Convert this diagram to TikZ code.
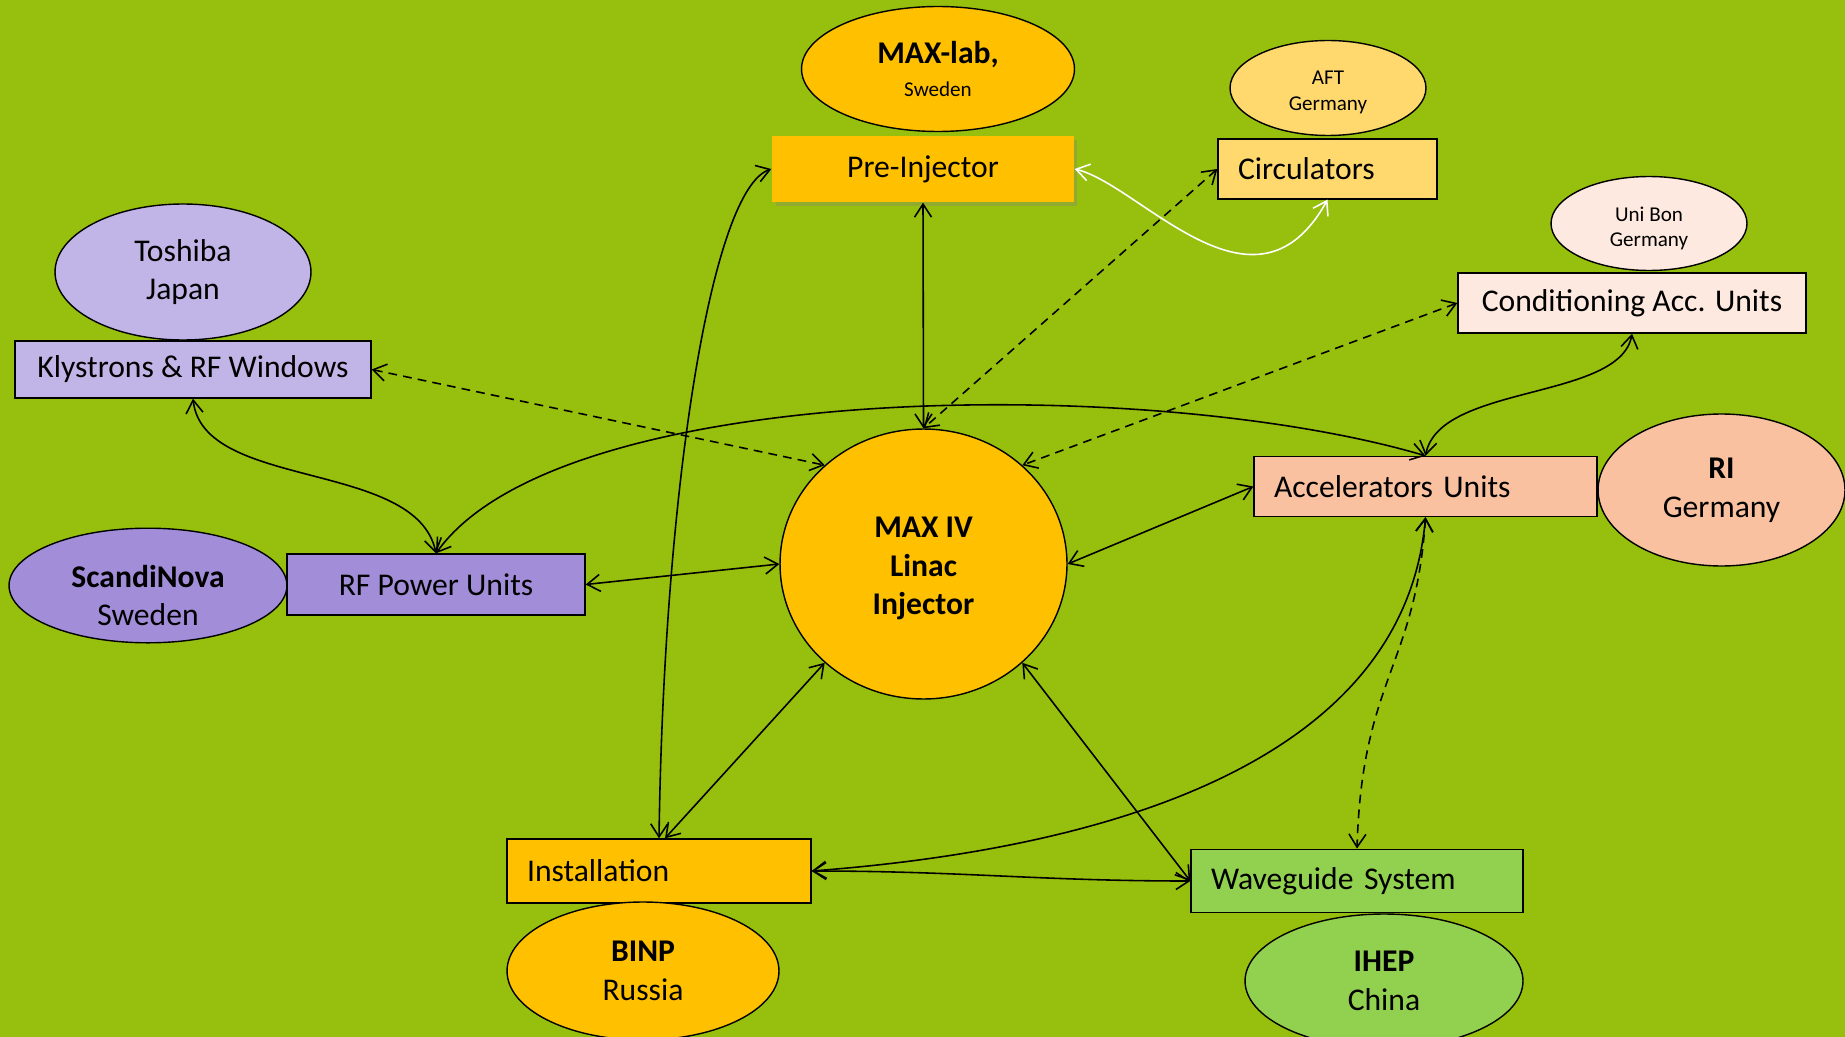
\documentclass[tikz,border=0pt]{standalone}
\usepackage{fontspec}
\setmainfont{Carlito}
\usepackage{tikz}
\usetikzlibrary{arrows.meta, shapes.geometric, shadows}
\definecolor{fondo}{RGB}{151,191,13}
\definecolor{naranja}{RGB}{255,192,0}
\definecolor{amarillo}{RGB}{255,217,110}
\definecolor{lila}{RGB}{193,181,231}
\definecolor{violeta}{RGB}{162,141,217}
\definecolor{rosa}{RGB}{253,233,223}
\definecolor{salmon}{RGB}{249,193,160}
\definecolor{verde}{RGB}{146,208,80}
\tikzset{
    org/.style={ellipse, draw=black, thick, inner sep=0pt, align=center, font=\fontsize{18}{22}\selectfont},
    orgsmall/.style={org, font=\fontsize{12}{14.5}\selectfont},
    unit/.style={rectangle, draw=black, thick, inner sep=0pt, align=center, font=\fontsize{18}{22}\selectfont},
    unitleft/.style={unit, align=left, inner xsep=0.4cm},
    rel/.style={<->, >={Straight Barb[length=2.6mm, width=3.4mm]}, line width=0.9pt, black},
    reldash/.style={rel, dash pattern=on 5pt off 3.5pt}
}

\begin{document}
\begin{tikzpicture}[x=0.02cm, y=-0.02cm]
    \path[use as bounding box, fill=fondo] (0,0) rectangle (1845,1037);

    % Centro: inyector
    \node[org, fill=naranja, font=\fontsize{18}{22}\selectfont\bfseries, minimum width=5.74cm, minimum height=5.4cm] (maxiv) at (923.5,564) {\rule{0pt}{17pt}MAX IV\\Linac\\Injector};

    % Parte superior
    \node[org, fill=naranja, minimum width=5.46cm, minimum height=2.5cm] (maxlab) at (938,69) {\textbf{MAX-lab,}\\[-3pt]{\fontsize{12}{14.5}\selectfont Sweden}};
    \node[unit, draw=none, fill=naranja, drop shadow={shadow xshift=2pt, shadow yshift=-2pt, opacity=0.3}, minimum width=6.04cm, minimum height=1.32cm] (pre) at (923,169) {Pre-Injector};
    \node[orgsmall, fill=amarillo, minimum width=3.92cm, minimum height=1.9cm] (aft) at (1328,88) {\rule{0pt}{13pt}AFT\\Germany};
    \node[unitleft, fill=amarillo, text width=3.58cm, minimum height=1.2cm] (circ) at (1327.5,169) {Circulators};

    % Izquierda
    \node[org, fill=lila, minimum width=5.12cm, minimum height=2.72cm] (toshiba) at (183,272) {Toshiba\\Japan};
    \node[unit, fill=lila, minimum width=7.12cm, minimum height=1.14cm] (kly) at (193,369.5) {Klystrons \& RF Windows};
    \node[org, fill=violeta, minimum width=5.56cm, minimum height=2.18cm] (scandi) at (148,585.5) {\rule{0pt}{24pt}\textbf{ScandiNova}\\Sweden};
    \node[unit, fill=violeta, minimum width=5.96cm, minimum height=1.22cm] (rfpu) at (436,584.5) {RF Power Units};

    % Derecha
    \node[orgsmall, fill=rosa, minimum width=3.92cm, minimum height=1.88cm] (unibon) at (1649,223.5) {\rule{0pt}{14pt}Uni Bon\\Germany};
    \node[unit, fill=rosa, minimum width=6.96cm, minimum height=1.2cm] (cond) at (1632,303) {Conditioning Acc. Units};
    \node[unitleft, fill=salmon, text width=6.06cm, minimum height=1.2cm] (acc) at (1425.5,486.5) {Accelerators Units};
    \node[org, fill=salmon, minimum width=4.94cm, minimum height=3.04cm] (ri) at (1721.5,490) {\textbf{RI}\\Germany};

    % Parte inferior
    \node[unitleft, fill=naranja, text width=5.28cm, minimum height=1.28cm] (inst) at (659,871) {Installation};
    \node[org, fill=naranja, minimum width=5.44cm, minimum height=2.76cm] (binp) at (643,971) {\textbf{BINP}\\Russia};
    \node[unitleft, fill=verde, text width=5.84cm, minimum height=1.27cm] (wave) at (1357,881) {Waveguide System};
    \node[org, fill=verde, minimum width=5.56cm, minimum height=2.68cm] (ihep) at (1384,981) {\textbf{IHEP}\\China};

    % Enlaces con el inyector
    \draw[rel] (pre.south) -- (maxiv.north);
    \draw[rel] (maxiv.west) -- (rfpu.east);
    \draw[rel] (maxiv.east) -- (acc.west);
    \draw[rel] (maxiv.225) -- ([xshift=0.12cm]inst.north);
    \draw[rel] (maxiv.-45) -- (wave.west);
    \draw[reldash] (kly.east) -- (maxiv.135);
    \draw[reldash] (circ.west) -- (maxiv.north);
    \draw[reldash] (cond.west) -- (maxiv.45);

    % Enlaces entre unidades
    \draw[rel] (inst.north) .. controls +(5,-350) and +(-60,20) .. (pre.west);
    \draw[rel] (kly.south) .. controls +(10,92) and +(-20,-94) .. (rfpu.north);
    \draw[rel] (rfpu.north) .. controls +(124,-174) and +(-275,-81) .. (acc.north);
    \draw[rel] (cond.south) .. controls +(-12,67) and +(14,-72) .. (acc.north);
    \draw[rel] (inst.east) .. controls +(330,-25) and +(-20,230) .. (acc.south);
    \draw[rel] (inst.east) .. controls +(150,0) and +(-150,0) .. (wave.west);
    \draw[reldash] (acc.south) .. controls +(-10,150) and +(5,-170) .. (wave.north);
    \draw[rel, white] (pre.east) .. controls +(66,16) and +(-72.5,131) .. (circ.south);
\end{tikzpicture}
\end{document}
